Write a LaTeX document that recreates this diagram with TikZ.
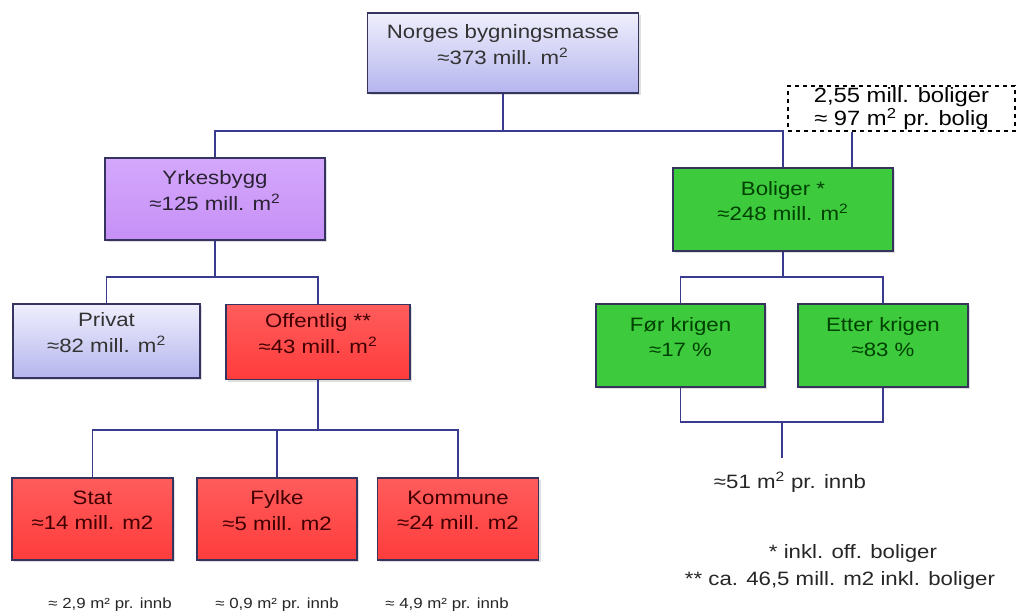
\documentclass[tikz,border=0pt]{standalone}
\usepackage{fontspec}
\setmainfont{Liberation Sans}[FakeStretch=1.15]
\usetikzlibrary{positioning,shadows,calc}

\definecolor{linkblue}{HTML}{3A3A8E}
\definecolor{boxline}{HTML}{34345E}
\definecolor{lavtop}{HTML}{EFEFFD}
\definecolor{lavbot}{HTML}{B5B5EE}
\definecolor{purptop}{HTML}{D4A8FC}
\definecolor{purpbot}{HTML}{C690F6}
\definecolor{redtop}{HTML}{FF5C5C}
\definecolor{redbot}{HTML}{FF3C3C}
\definecolor{greenfill}{HTML}{3DCB3D}

\begin{document}
\begin{tikzpicture}[x=0.75pt,y=-0.75pt,
    box/.style={draw=boxline,line width=1.2pt,align=center,inner sep=2pt,
      font=\fontsize{14.5}{19}\selectfont,text depth=13pt,
      drop shadow={shadow xshift=1.5pt,shadow yshift=-1.5pt,opacity=0.25}},
    lavbox/.style={box,top color=lavtop,bottom color=lavbot,text=black!80},
    purpbox/.style={box,top color=purptop,bottom color=purpbot,text=black!80!purptop},
    redbox/.style={box,top color=redtop,bottom color=redbot,text=black!75!red},
    greenbox/.style={box,fill=greenfill,text=black!75!green},
    notebox/.style={draw,dashed,line width=0.8pt,align=center,inner sep=0pt,
      font=\fontsize{15.5}{14.5}\selectfont},
    link/.style={draw=linkblue,line width=1.4pt},
    perinnb/.style={font=\fontsize{11}{13}\selectfont,text=black!85},
    footnote/.style={font=\fontsize{14.5}{17}\selectfont,text=black!85}]

  \useasboundingbox (0,0) rectangle (1025,615);

  % top level
  \node[lavbox,minimum width=271*0.75pt,minimum height=80*0.75pt] (root) at (503,53)
    {Norges bygningsmasse\\≈373 mill. m\textsuperscript{2}};
  \node[notebox,minimum width=227*0.75pt,minimum height=45*0.75pt] (note) at (901.5,108.5)
    {2,55 mill. boliger\\≈ 97 m\textsuperscript{2} pr. bolig};

  % second level
  \node[purpbox,minimum width=220*0.75pt,minimum height=82*0.75pt] (yrk) at (215,199)
    {Yrkesbygg\\≈125 mill. m\textsuperscript{2}};
  \node[greenbox,minimum width=220*0.75pt,minimum height=83*0.75pt] (bol) at (783,209.5)
    {Boliger *\\≈248 mill. m\textsuperscript{2}};

  % third level
  \node[lavbox,minimum width=187*0.75pt,minimum height=74*0.75pt] (priv) at (106.5,341)
    {Privat\\≈82 mill. m\textsuperscript{2}};
  \node[redbox,minimum width=184*0.75pt,minimum height=75*0.75pt] (off) at (318,342)
    {Offentlig **\\≈43 mill. m\textsuperscript{2}};
  \node[greenbox,minimum width=169*0.75pt,minimum height=83*0.75pt] (for) at (680.5,345.5)
    {Før krigen\\≈17 \%};
  \node[greenbox,minimum width=170*0.75pt,minimum height=83*0.75pt] (etter) at (883,345.5)
    {Etter krigen\\≈83 \%};

  % fourth level
  \node[redbox,minimum width=161*0.75pt,minimum height=82*0.75pt] (stat) at (92.5,519)
    {Stat\\≈14 mill. m2};
  \node[redbox,minimum width=160*0.75pt,minimum height=82*0.75pt] (fylke) at (277,519)
    {Fylke\\≈5 mill. m2};
  \node[redbox,minimum width=161*0.75pt,minimum height=82*0.75pt] (komm) at (458,519)
    {Kommune\\≈24 mill. m2};

  % texts
  \node[perinnb] (innbstat) at (110,605) {≈ 2,9 m² pr. innb};
  \node[perinnb] (innbfylke) at (277,605) {≈ 0,9 m² pr. innb};
  \node[perinnb] (innbkomm) at (447,605) {≈ 4,9 m² pr. innb};
  \node[footnote] (innbbol) at (790,482) {≈51 m\textsuperscript{2} pr. innb};
  \node[footnote] (fnone) at (853,553) {* inkl. off. boliger};
  \node[footnote] (fntwo) at (840,580) {** ca. 46,5 mill. m2 inkl. boliger};

  % connectors
  \coordinate (j1) at (503,131);
  \draw[link] (root.south) -- (j1);
  \draw[link] (yrk.north) |- (j1) -| (bol.north);
  \coordinate (nb) at ($(bol.north east)+(-42,0)$);
  \draw[link] (nb) -- (nb |- note.south);

  \coordinate (j2) at (215,277);
  \draw[link] (yrk.south) -- (j2);
  \draw[link] (priv.north) |- (j2) -| (off.north);

  \coordinate (j3) at (783,277);
  \draw[link] (bol.south) -- (j3);
  \draw[link] (for.north) |- (j3) -| (etter.north);

  \coordinate (j4) at (782,422);
  \coordinate (j5) at (782,458);
  \draw[link] (for.south) |- (j4) -| (etter.south);
  \draw[link] (j4) -- (j5);

  \coordinate (j6) at (318,430);
  \draw[link] (off.south) -- (j6);
  \draw[link] (stat.north) |- (j6) -| (komm.north);
  \draw[link] (fylke.north) -- (fylke.north |- j6);
\end{tikzpicture}
\end{document}
